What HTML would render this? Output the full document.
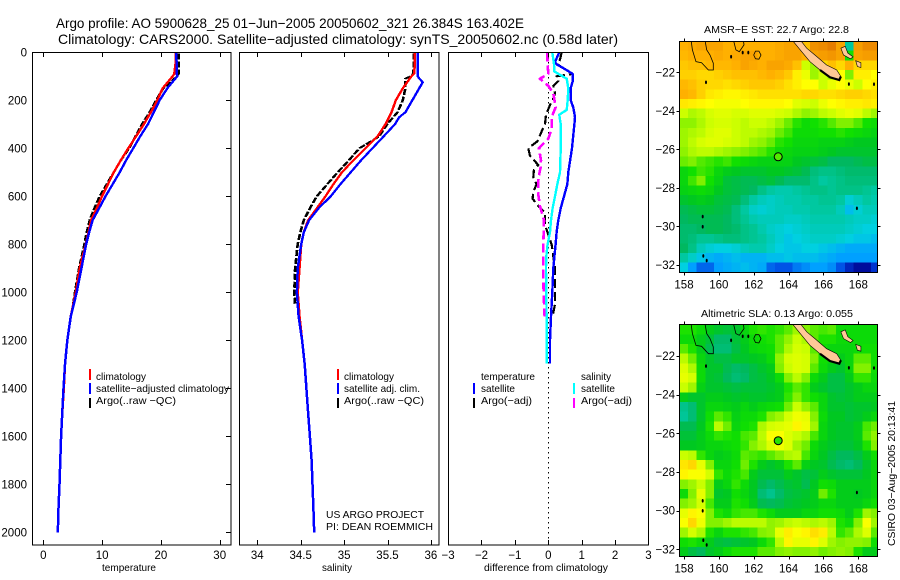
<!DOCTYPE html>
<html lang="en">
<head>
<meta charset="utf-8">
<title>Argo profile chart</title>
<style>
html,body{margin:0;padding:0;background:#fff;width:900px;height:580px;overflow:hidden}
svg{display:block}
text{font-family:"Liberation Sans",sans-serif;fill:#000}
.t{font-size:14px}.s{font-size:10.5px}.k{font-size:11.5px}
</style>
</head>
<body>
<svg id="chart" xmlns="http://www.w3.org/2000/svg" width="900" height="580" viewBox="0 0 900 580">
<rect x="0" y="0" width="900" height="580" fill="#fff"/>
<text class="t" x="56" y="28" textLength="468" lengthAdjust="spacingAndGlyphs">Argo profile: AO 5900628_25 01−Jun−2005 20050602_321 26.384S 163.402E</text>
<text class="t" x="58" y="44" textLength="560" lengthAdjust="spacingAndGlyphs">Climatology: CARS2000. Satellite−adjusted climatology: synTS_20050602.nc (0.58d later)</text>

<defs>
<clipPath id="c1"><rect x="32" y="52" width="199" height="493"/></clipPath>
<clipPath id="c2"><rect x="240" y="52" width="199" height="493"/></clipPath>
<clipPath id="c3"><rect x="448" y="52" width="200" height="493"/></clipPath>
<clipPath id="m1"><rect x="679.5" y="41.5" width="198" height="231"/></clipPath>
<clipPath id="m2"><rect x="679.5" y="324.5" width="198" height="232"/></clipPath>
</defs>

<g id="mapLayer"></g>
<g id="plotLayer"></g>

<g>
<rect x="89" y="369" width="2" height="11" fill="#f00"/>
<rect x="89" y="383" width="2" height="11" fill="#00f"/>
<rect x="89" y="398" width="2" height="10" fill="#000"/>
<text class="s" x="96" y="380" textLength="50" lengthAdjust="spacingAndGlyphs">climatology</text>
<text class="s" x="96" y="392" textLength="133" lengthAdjust="spacingAndGlyphs">satellite−adjusted climatology</text>
<text class="s" x="96" y="404" textLength="80" lengthAdjust="spacingAndGlyphs">Argo(..raw −QC)</text>
</g>
<g>
<rect x="337" y="369" width="2" height="11" fill="#f00"/>
<rect x="337" y="383" width="2" height="11" fill="#00f"/>
<rect x="337" y="398" width="2" height="10" fill="#000"/>
<text class="s" x="344" y="380" textLength="50" lengthAdjust="spacingAndGlyphs">climatology</text>
<text class="s" x="344" y="392" textLength="76" lengthAdjust="spacingAndGlyphs">satellite adj. clim.</text>
<text class="s" x="344" y="404" textLength="80" lengthAdjust="spacingAndGlyphs">Argo(..raw −QC)</text>
<text class="s" x="326" y="518" textLength="98" lengthAdjust="spacingAndGlyphs">US ARGO PROJECT</text>
<text class="s" x="326" y="530" textLength="107" lengthAdjust="spacingAndGlyphs">PI: DEAN ROEMMICH</text>
</g>
<g>
<text class="s" x="481" y="380" textLength="54" lengthAdjust="spacingAndGlyphs">temperature</text>
<rect x="473" y="383" width="2" height="11" fill="#00f"/>
<text class="s" x="481" y="392" textLength="34" lengthAdjust="spacingAndGlyphs">satellite</text>
<rect x="473" y="398" width="2" height="10" fill="#000"/>
<text class="s" x="481" y="404" textLength="51" lengthAdjust="spacingAndGlyphs">Argo(−adj)</text>
<text class="s" x="581" y="380" textLength="30" lengthAdjust="spacingAndGlyphs">salinity</text>
<rect x="573" y="383" width="2" height="11" fill="#0ff"/>
<text class="s" x="581" y="392" textLength="34" lengthAdjust="spacingAndGlyphs">satellite</text>
<rect x="573" y="398" width="2" height="10" fill="#f0f"/>
<text class="s" x="581" y="404" textLength="51" lengthAdjust="spacingAndGlyphs">Argo(−adj)</text>
</g>

<text class="s" x="102" y="571" textLength="54" lengthAdjust="spacingAndGlyphs">temperature</text>
<text class="s" x="322" y="571" textLength="30" lengthAdjust="spacingAndGlyphs">salinity</text>
<text class="s" x="484" y="571" textLength="124" lengthAdjust="spacingAndGlyphs">difference from climatology</text>

<text class="s" x="704" y="33" textLength="145" lengthAdjust="spacingAndGlyphs">AMSR−E SST: 22.7 Argo: 22.8</text>
<text class="s" x="701" y="317" textLength="152" lengthAdjust="spacingAndGlyphs">Altimetric SLA: 0.13 Argo: 0.055</text>
<text class="s" transform="translate(895,546) rotate(-90)" x="0" y="0" textLength="145" lengthAdjust="spacingAndGlyphs">CSIRO 03−Aug−2005 20:13:41</text>
</svg>

<script>
// ---------- profile data ----------
const climDepth = [0,50,90,100,150,200,250,300,350,400,450,500,550,600,650,700,750,800,900,1000,1100,1200,1300,1400,1500,1600,1700,1800,1900,2000];
const tempClim = [22.4,22.4,22.2,21.9,20.2,19.3,18.2,17.0,15.7,14.35,13.1,11.9,10.9,9.9,9.0,8.05,7.6,7.15,6.1,5.45,4.6,4.0,3.6,3.4,3.15,2.95,2.8,2.67,2.5,2.38];
const tempSat = [22.5,22.6,22.6,22.7,21.0,19.7,18.7,17.7,16.4,15.2,14.0,12.9,11.7,10.5,9.4,8.3,7.7,7.2,6.4,5.6,4.6,4.0,3.6,3.35,3.15,2.95,2.8,2.67,2.5,2.38];
const salClim = [35.81,35.81,35.80,35.77,35.67,35.59,35.54,35.47,35.38,35.24,35.10,34.97,34.87,34.78,34.68,34.58,34.53,34.50,34.48,34.46,34.48,34.51,34.54,34.56,34.58,34.60,34.62,34.63,34.64,34.65];
const satSalDepth = [0,100,125,150,200,250,270,300,350,400,450,500,550,600,650,700,750,800,900,1000,1100,1200,1300,1400,1500,1600,1700,1800,1900,2000];
const salSat = [35.84,35.84,35.90,35.86,35.78,35.70,35.63,35.58,35.45,35.32,35.19,35.07,34.95,34.84,34.70,34.59,34.53,34.50,34.46,34.45,34.47,34.51,34.54,34.56,34.58,34.60,34.62,34.63,34.64,34.65];
const argoDepth = [5,50,90,100,110,150,200,250,300,350,400,450,500,550,600,650,700,750,800,900,1000,1050];
const tempArgo = [22.9,22.9,22.9,22.7,22.2,20.3,19.1,18.0,16.7,15.6,14.5,13.1,11.9,10.7,9.5,8.6,7.8,7.3,6.9,6.0,5.3,5.0];
const salArgo = [35.80,35.80,35.79,35.76,35.70,35.70,35.67,35.61,35.49,35.40,35.17,35.05,34.92,34.80,34.68,34.60,34.53,34.49,34.46,34.43,34.42,34.43];

const tempDiffSatDepth = [0,40,50,70,90,120,150,200,230,270,300,400,500,550,600,650,700,750,800,900,1000,1100,1200,1296];
const tempDiffSat = [.33,.2,.25,.5,.73,.73,.67,.67,.75,.8,.78,.71,.6,.57,.47,.37,.3,.25,.22,.15,.12,.08,.05,.05];
const salDiffSatDepth = [0,50,80,110,150,200,240,260,300,400,500,550,600,650,700,750,800,850,900,1000,1100,1296];
const salDiffSat = [.12,.17,.18,.55,.6,.58,.55,.33,.37,.37,.35,.27,.2,.13,.08,.05,-.02,-.06,-.07,-.06,-.05,-.05];
const salDiffArgoDepth = [0,50,90,110,140,170,230,270,320,360,400,450,480,520,580,640,700,800,900,1000,1100];
const salDiffArgo = [-.03,-.02,0,-.25,0,.15,.22,.1,.1,0,-.28,-.22,-.23,-.29,-.31,-.25,-.13,-.15,-.15,-.14,-.11];
const tempDiffArgoDepth = [0,30,50,90,100,120,140,170,200,220,260,300,330,370,400,430,470,490,520,550,580,610,640,670,720,760,800,900,1000,1050,1100];
const tempDiffArgo = [.4,.35,.27,.73,.25,.3,.15,.2,.13,.05,-.07,-.1,-.2,-.32,-.6,-.55,-.3,-.43,-.45,-.35,-.45,-.47,-.3,-.1,-.1,0,.1,.2,.2,.2,.13];

// ---------- tick labels ----------
const depthTicks = [0,200,400,600,800,1000,1200,1400,1600,1800,2000];
const tempTicks = [0,10,20,30];
const salTicks = [34,34.5,35,35.5,36];
const diffTicks = [-3,-2,-1,0,1,2,3];
const lonTicks = [158,160,162,164,166,168];
const latTicks = [-22,-24,-26,-28,-30,-32];

// ---------- map grids (0.5 degree cells, north to south) ----------
const sstGrid = [
[25.0,25.1,25.2,25.2,25.2,25.0,25.0,25.0,25.0,25.0,25.0,25.1,25.2,25.2,24.8,25.5,25.6,25.8,25.2,21.0,25.3,25.6,25.6],
[24.9,25.0,25.0,25.0,25.1,25.0,25.1,25.2,25.2,25.0,25.0,25.1,25.2,25.2,25.0,25.2,25.3,25.4,25.2,22.5,25.2,25.3,25.3],
[24.7,24.8,24.8,24.9,24.9,24.9,25.0,25.2,25.1,25.0,25.2,25.2,25.1,24.8,23.5,23.2,24.5,24.8,24.5,25.0,24.5,24.5,24.5],
[24.6,24.6,24.5,24.5,24.6,24.7,24.8,24.8,24.8,24.9,25.0,24.9,24.7,24.2,23.8,23.2,23.5,23.2,24.0,23.0,24.2,24.2,24.0],
[24.9,24.8,24.6,24.5,24.5,24.4,24.5,24.6,24.7,24.7,24.7,24.6,24.4,24.2,24.0,24.0,23.5,23.8,24.0,23.8,23.5,24.0,24.2],
[25.0,24.9,24.6,24.3,24.2,24.1,24.1,24.2,24.3,24.4,24.4,24.4,24.4,24.4,24.5,24.5,24.4,24.4,24.5,24.6,24.6,24.5,24.4],
[24.3,24.2,24.1,24.0,23.9,23.9,23.9,24.0,24.1,24.1,24.1,24.1,24.0,23.7,23.6,23.5,23.8,24.0,24.1,24.2,24.2,24.3,24.2],
[23.5,23.3,23.4,23.6,23.7,23.7,23.6,23.6,23.7,23.7,23.7,23.6,23.5,23.3,23.1,23.2,23.4,23.5,23.7,23.8,23.7,23.4,23.2],
[23.1,23.1,23.3,23.5,23.6,23.6,23.5,23.4,23.5,23.5,23.4,23.2,22.9,22.6,22.4,22.5,22.6,22.8,23.0,23.0,22.8,22.5,22.4],
[23.2,23.3,23.4,23.6,23.7,23.7,23.5,23.4,23.4,23.3,23.2,22.9,22.7,22.4,22.4,22.4,22.5,22.5,22.6,22.5,22.4,22.3,22.2],
[23.2,23.4,23.6,23.7,23.7,23.6,23.5,23.4,23.2,23.1,22.9,22.6,22.5,22.3,22.3,22.3,22.2,22.2,22.2,22.1,22.0,22.0,22.0],
[23.1,23.3,23.4,23.4,23.3,23.2,23.1,23.0,22.9,22.8,22.6,22.4,22.3,22.2,22.2,22.2,22.1,22.0,21.9,21.9,21.9,21.9,21.9],
[22.9,23.0,22.8,22.7,22.6,22.7,22.5,22.4,22.3,22.2,22.2,22.2,22.2,22.0,21.9,21.8,21.7,21.5,21.5,21.5,21.6,21.7,21.7],
[22.3,22.5,22.7,22.6,22.3,22.1,22.0,21.9,21.9,21.9,22.0,22.0,21.9,21.8,21.6,21.3,21.2,21.2,21.3,21.4,21.4,21.4,21.4],
[22.3,22.7,23.0,22.5,22.2,21.8,21.7,21.6,21.6,21.7,21.8,21.6,21.4,21.4,21.4,21.2,21.0,21.1,21.2,21.3,21.3,21.3,21.3],
[22.2,22.3,22.4,22.3,22.0,21.8,21.7,21.6,21.5,21.2,21.0,20.9,20.9,21.0,21.1,21.2,21.2,21.1,21.2,21.2,21.2,21.1,21.0],
[21.9,22.0,22.1,22.0,21.8,21.7,21.6,21.3,21.0,20.8,20.7,20.8,20.9,20.9,21.0,21.0,21.1,21.1,21.0,20.6,20.8,21.0,20.9],
[21.6,21.7,21.8,21.8,21.7,21.6,21.3,21.0,20.7,20.6,20.7,20.8,20.8,20.9,20.9,21.0,21.0,21.0,20.8,20.3,20.6,20.8,20.8],
[21.5,21.6,21.6,21.6,21.6,21.5,21.3,21.1,20.9,20.8,20.8,20.8,20.7,20.7,20.8,20.9,20.9,20.9,20.9,20.8,20.7,20.7,20.6],
[21.4,21.4,21.5,21.6,21.6,21.5,21.4,21.2,21.1,20.9,20.7,20.6,20.5,20.6,20.7,20.8,20.8,20.8,20.8,20.7,20.6,20.5,20.5],
[21.4,21.3,21.1,21.1,21.2,21.3,21.3,21.2,21.1,21.0,20.8,20.6,20.4,20.5,20.6,20.7,20.7,20.7,20.6,20.5,20.4,20.4,20.3],
[21.5,21.2,20.8,20.6,20.5,20.5,20.6,20.8,20.9,20.9,20.7,20.5,20.4,20.4,20.5,20.5,20.4,20.3,20.2,20.1,20.1,20.1,20.1],
[21.0,20.7,20.4,20.2,20.1,20.2,20.3,20.2,20.2,20.2,20.3,20.3,20.4,20.3,20.3,20.3,20.2,20.1,20.0,20.0,20.0,20.0,20.0],
[20.5,20.0,19.7,19.7,20.0,20.1,20.2,20.3,20.2,20.1,19.7,19.6,19.6,19.8,19.9,20.0,20.0,19.9,19.6,19.3,19.1,19.1,19.4]
];
const slaGrid = [
[.05,.05,.03,0,-.02,-.03,-.02,.02,.05,.06,.05,.06,.08,.12,.10,.08,.07,.08,.03,.03,.03,.03,.03],
[.03,.03,0,-.03,-.07,-.07,-.03,0,.03,.04,.05,.08,.11,.15,.13,.08,.05,.05,.03,.03,.03,.03,.03],
[.08,.05,0,-.05,-.08,-.08,-.04,-.01,.02,.03,.04,.08,.13,.16,.15,.08,.04,.02,.02,.02,.03,.04,.04],
[.14,.09,.02,-.02,-.04,-.04,-.02,-.02,-.01,0,.03,.11,.16,.17,.16,.10,.04,.02,0,.02,.08,.08,.04],
[.17,.13,.03,-.02,-.02,-.05,-.07,-.06,-.04,-.02,0,.10,.15,.17,.16,.08,.03,0,-.02,.02,.10,.10,.04],
[.18,.16,.03,-.02,-.03,-.06,-.08,-.07,-.04,-.03,-.01,.03,.10,.14,.10,.03,0,-.04,-.04,0,.06,.06,.03],
[.15,.12,.01,-.02,-.02,-.03,-.04,-.03,-.03,-.03,-.02,0,.05,.08,.06,0,-.02,-.04,-.04,-.02,0,.02,.02],
[0,-.02,-.02,0,0,-.01,-.02,-.01,-.02,-.02,-.01,0,.06,.10,.06,.04,.02,-.02,-.03,-.02,0,0,0],
[-.10,-.08,-.02,.02,.02,.01,0,.02,0,.02,.03,.04,.09,.15,.11,.08,.02,-.02,-.02,-.03,-.02,-.02,-.01],
[-.11,-.08,-.02,.04,.08,.06,.01,.03,.03,.05,.10,.12,.16,.19,.18,.10,.03,-.01,-.01,-.03,-.02,0,.02],
[-.05,-.05,-.01,.05,.14,.09,.02,.04,.05,.13,.16,.17,.18,.22,.19,.12,.02,-.01,-.02,-.02,0,.07,.09],
[-.03,-.03,0,.03,.06,.05,.04,.07,.08,.14,.20,.20,.17,.15,.13,.07,.02,-.01,-.02,-.02,0,.08,.11],
[-.01,-.01,0,.02,.02,.03,.04,.06,.10,.13,.17,.19,.17,.12,.09,.03,0,-.02,-.03,-.03,-.01,.05,.10],
[.15,.14,.06,.02,0,.01,.03,.08,.07,.06,.08,.10,.13,.14,.07,.02,-.01,-.04,-.06,-.06,-.04,0,.04],
[.24,.26,.18,.10,.02,.02,.04,.09,.05,0,-.02,0,.05,.08,.01,-.01,-.02,-.05,-.07,-.08,-.06,-.02,.02],
[.22,.20,.20,.16,.06,.03,.05,.07,0,-.03,-.03,-.03,0,-.02,-.04,-.03,0,-.02,-.03,-.03,-.03,-.01,.02],
[.10,.12,.15,.10,0,.02,.06,.03,-.01,-.05,-.07,-.05,-.03,-.02,-.05,-.01,.04,.03,0,0,0,0,.02],
[.03,.10,.18,.10,-.02,-.01,.04,.02,-.01,-.08,-.10,-.07,-.04,-.03,-.02,0,.09,.05,0,0,-.01,0,.02],
[.10,.12,.16,.07,0,0,.05,.04,0,-.05,-.06,-.05,-.03,-.02,-.01,0,.02,.02,0,0,0,.02,.04],
[.18,.22,.20,.10,.05,.03,.06,.07,.07,.05,.03,0,0,0,.02,.02,.04,.04,.03,0,.05,.12,.10],
[.20,.26,.19,.10,.10,.12,.14,.14,.14,.14,.11,.12,.14,.15,.14,.13,.14,.12,.05,.03,.10,.20,.12],
[.12,.16,.13,.05,.02,.05,.05,.06,.07,.10,.11,.18,.23,.20,.22,.25,.23,.14,.06,.08,.13,.17,.08],
[.04,.05,.03,0,-.03,-.04,-.03,-.02,-.01,.03,.06,.14,.22,.18,.18,.22,.17,.12,.10,.11,.11,.10,.04],
[0,-.04,-.06,-.02,0,.03,.05,.05,.05,.08,.08,.10,.11,.10,.10,.11,.09,.10,.11,.10,.05,0,0]
];
const argoSst = 22.8;
const argoSla = 0.055;
const argoLon = 163.402;
const argoLat = -26.384;

// ---------- geography (lon, lat) ----------
const newCaledonia = [[164.18,-20.3],[164.65,-20.3],[165.04,-20.75],[165.51,-21.10],[166.18,-21.62],[166.76,-21.88],[167.0,-22.22],[166.91,-22.40],[166.37,-22.26],[165.80,-21.88],[165.23,-21.45],[164.75,-20.93]];
const nwCoast = [[158.40,-20.3],[158.48,-20.84],[158.69,-21.45],[159.01,-21.50],[159.40,-21.88],[159.68,-21.88],[159.68,-21.53],[159.49,-21.10],[159.30,-20.84],[159.20,-20.3]];
const northReef = [[160.83,-20.3],[160.98,-20.84],[161.17,-20.93],[161.44,-20.58],[161.40,-20.3]];
const reefRing = [[162.0,-21.1],[162.1,-20.9],[162.3,-20.9],[162.42,-21.1],[162.3,-21.32],[162.1,-21.3],[162.0,-21.1]];
const blackIslets = [[160.70,-21.19],[161.37,-20.98],[161.69,-20.98],[159.26,-22.52],[159.07,-29.49],[159.07,-30.01],[159.11,-31.53],[159.30,-31.77],[167.92,-29.06],[167.46,-22.61],[168.90,-22.62]];
const loyaltyIsland = [[167.0,-20.75],[167.25,-20.65],[167.4,-21.0],[167.7,-21.2],[167.55,-21.3],[167.15,-21.1]];
const liftuIsland = [[167.85,-21.4],[168.15,-21.5],[168.15,-21.75],[167.95,-21.7]];

// ---------- colour scale ----------
const paletteColors = ['#00008c','#0040e0','#00a0ff','#00d0e0','#00c8a0','#00b860','#00c820','#10e000','#80f000','#ccff00','#ffff00','#ffd800','#ffb000','#f09000','#e07000'];
const sstMin = 19.0;
const sstStep = 0.5;

function hex(c){return [1,3,5].map(function(i){return parseInt(c.substr(i,2),16);});}
function heatColor(t){
  var p=(t-sstMin)/sstStep;
  p=Math.max(0,Math.min(paletteColors.length-1.001,p));
  var i=Math.floor(p),f=p-i,a=hex(paletteColors[i]),b=hex(paletteColors[i+1]);
  return 'rgb('+a.map(function(v,k){return Math.round(v+(b[k]-v)*f);}).join(',')+')';
}
function slaToSst(v){return 22.6+(v-0.055)*9.3;}

// ---------- axis functions ----------
var NS='http://www.w3.org/2000/svg';
function yDepth(d){return 52.3+0.24*d;}
function xTemp(t){return 43.3+5.88*t;}
function xSal(s){return 257.3+86.8*(s-34);}
function xDiff(v){return 548.3+33.4*v;}
function xLon(l){return 684+(l-158)*17.43;}
function yLat1(l){return 72.3+(-22-l)*19.27;}
function yLat2(l){return 356+(-22-l)*19.33;}

function mk(tag,attrs,parent,name){
  var el=document.createElementNS(NS,tag);
  for(var k in attrs){el.setAttribute(k,attrs[k]);}
  
  
  parent.appendChild(el);
  return el;
}
function label(str,x,y,anchor,parent,name){
  var t=mk('text',{x:x,y:y,'text-anchor':anchor,'class':'k'},parent,name);
  t.textContent=str;
  return t;
}

// ---------- profile panels ----------
var plots=document.getElementById('plotLayer');
function series(g,depths,vals,xf,color,width,dash,name,pen){
  [0].concat(pen?[pen]:[]).forEach(function(off){
    var pts=depths.map(function(d,i){return (xf(vals[i])+off).toFixed(1)+','+yDepth(d).toFixed(1);}).join(' ');
    var a={points:pts,fill:'none',stroke:color,'stroke-width':width,'shape-rendering':'crispEdges','stroke-linejoin':'round'};
    if(dash){a['stroke-dasharray']=dash;}
    mk('polyline',a,g,name);
  });
}
function panel(left,right,clip,ticks,xf,showRight,name){
  var g=mk('g',{},plots,name);
  var inner=mk('g',{'clip-path':'url(#'+clip+')'},g,name+'-series');
  mk('rect',{x:left,y:52.5,width:right-left,height:492.5,fill:'none',stroke:'#000','stroke-width':1,'shape-rendering':'crispEdges'},g,name+'-frame');
  ticks.forEach(function(v){
    var x=Math.round(xf(v))+0.5;
    if(x>left+1&&x<right-1){
      mk('line',{x1:x,x2:x,y1:52,y2:57,stroke:'#000','shape-rendering':'crispEdges'},g,'x-tick-top');
      mk('line',{x1:x,x2:x,y1:540,y2:545,stroke:'#000','shape-rendering':'crispEdges'},g,'x-tick-bottom');
    }
    label(String(v).replace('-','−'),xf(v),559,'middle',g,'x-tick-label');
  });
  if(showRight){
    depthTicks.forEach(function(d){
      var y=Math.round(yDepth(d))+0.5;
      mk('line',{x1:right-5,x2:right,y1:y,y2:y,stroke:'#000','shape-rendering':'crispEdges'},g,'y-tick-right');
    });
  }
  return inner;
}
var p1=panel(32.5,231,'c1',tempTicks,xTemp,true,'temperature-panel');
depthTicks.forEach(function(d){
  label(String(d),27,yDepth(d)+4,'end',plots,'depth-tick-label');
});
series(p1,argoDepth,tempArgo,xTemp,'#000',1.6,'6 2','temperature-argo-line',1);
series(p1,climDepth,tempClim,xTemp,'#f00',1.5,null,'temperature-climatology-line',1);
series(p1,climDepth,tempSat,xTemp,'#00f',1.5,null,'temperature-satellite-line',1);

var p2=panel(239.5,439,'c2',salTicks,xSal,false,'salinity-panel');
series(p2,argoDepth,salArgo,xSal,'#000',1.6,'6 2','salinity-argo-line',1);
series(p2,climDepth,salClim,xSal,'#f00',1.5,null,'salinity-climatology-line',1);
series(p2,satSalDepth,salSat,xSal,'#00f',1.5,null,'salinity-satellite-line',1);

var p3=panel(448.5,648.5,'c3',diffTicks,xDiff,false,'difference-panel');
mk('line',{x1:548.5,x2:548.5,y1:52,y2:545,stroke:'#000','stroke-width':1,'stroke-dasharray':'1.5 3.5'},p3,'zero-line');
series(p3,tempDiffArgoDepth,tempDiffArgo,xDiff,'#000',2.2,'9 4','temp-diff-argo-line');
series(p3,salDiffArgoDepth,salDiffArgo,xDiff,'#f0f',2.6,'9 4','sal-diff-argo-line');
series(p3,tempDiffSatDepth,tempDiffSat,xDiff,'#00f',2.4,null,'temp-diff-satellite-line');
series(p3,salDiffSatDepth,salDiffSat,xDiff,'#0ff',2.4,null,'sal-diff-satellite-line');

// ---------- maps ----------
var maps=document.getElementById('mapLayer');
function drawMap(grid,colorOf,yf,clip,box,argoVal,name){
  var g=mk('g',{},maps,name);
  var inner=mk('g',{'clip-path':'url(#'+clip+')'},g,name+'-image');
  var lon0=157.73, lat0=-20.38, step=0.5;
  grid.forEach(function(row,r){
    row.forEach(function(v,c){
      var x0=xLon(lon0+c*step), x1=xLon(lon0+(c+1)*step);
      var y0=yf(lat0-r*step), y1=yf(lat0-(r+1)*step);
      mk('rect',{x:x0.toFixed(1),y:y0.toFixed(1),width:(x1-x0+0.6).toFixed(1),height:(y1-y0+0.6).toFixed(1),fill:colorOf(v),'shape-rendering':'crispEdges'},inner,'map-cell');
    });
  });
  function pts(a){return a.map(function(p){return xLon(p[0]).toFixed(1)+','+yf(p[1]).toFixed(1);}).join(' ');}
  mk('polyline',{points:pts(nwCoast),fill:'none',stroke:'#000','stroke-width':0.8},inner,'coastline-west');
  mk('polyline',{points:pts(northReef),fill:'none',stroke:'#000','stroke-width':0.8},inner,'coastline-north');
  mk('polyline',{points:pts(reefRing),fill:'none',stroke:'#000','stroke-width':0.8},inner,'reef-ring');
  mk('polygon',{points:pts(newCaledonia),fill:'#ffc896',stroke:'#000','stroke-width':0.6},inner,'new-caledonia');
  mk('polyline',{points:pts(newCaledonia.slice(6,10)),fill:'none',stroke:'#000','stroke-width':2.2},inner,'new-caledonia-south-coast');
  mk('polygon',{points:pts(loyaltyIsland),fill:'#ffc896',stroke:'#000','stroke-width':0.6},inner,'loyalty-island');
  mk('polygon',{points:pts(liftuIsland),fill:'#ffc896',stroke:'#000','stroke-width':0.6},inner,'lifou-island');
  blackIslets.forEach(function(p){
    mk('ellipse',{cx:xLon(p[0]).toFixed(1),cy:yf(p[1]).toFixed(1),rx:1,ry:1.8,fill:'#000'},inner,'islet');
  });
  mk('circle',{cx:xLon(argoLon).toFixed(1),cy:yf(argoLat).toFixed(1),r:4,fill:colorOf(argoVal),stroke:'#000','stroke-width':1},inner,'argo-position-marker');
  mk('rect',{x:box[0],y:box[1],width:box[2],height:box[3],fill:'none',stroke:'#000','stroke-width':1,'shape-rendering':'crispEdges'},g,name+'-frame');
  lonTicks.forEach(function(l){
    var x=Math.round(xLon(l))+0.5;
    mk('line',{x1:x,x2:x,y1:box[1]-3,y2:box[1],stroke:'#000','shape-rendering':'crispEdges'},g,'lon-tick-top');
    mk('line',{x1:x,x2:x,y1:box[1]+box[3],y2:box[1]+box[3]+3,stroke:'#000','shape-rendering':'crispEdges'},g,'lon-tick-bottom');
    label(String(l),xLon(l),box[1]+box[3]+16,'middle',g,'lon-tick-label');
  });
  latTicks.forEach(function(l){
    var y=Math.round(yf(l))+0.5;
    mk('line',{x1:box[0]-3,x2:box[0],y1:y,y2:y,stroke:'#000','shape-rendering':'crispEdges'},g,'lat-tick-left');
    mk('line',{x1:box[0]+box[2],x2:box[0]+box[2]+3,y1:y,y2:y,stroke:'#000','shape-rendering':'crispEdges'},g,'lat-tick-right');
    label(String(l).replace('-','−'),675,yf(l)+4,'end',g,'lat-tick-label');
  });
}
drawMap(sstGrid,heatColor,yLat1,'m1',[679.5,41.5,198,231],argoSst,'sst-map');
drawMap(slaGrid,function(v){return heatColor(slaToSst(v));},yLat2,'m2',[679.5,324.5,198,232],argoSla,'sla-map');
</script>
</body>
</html>
